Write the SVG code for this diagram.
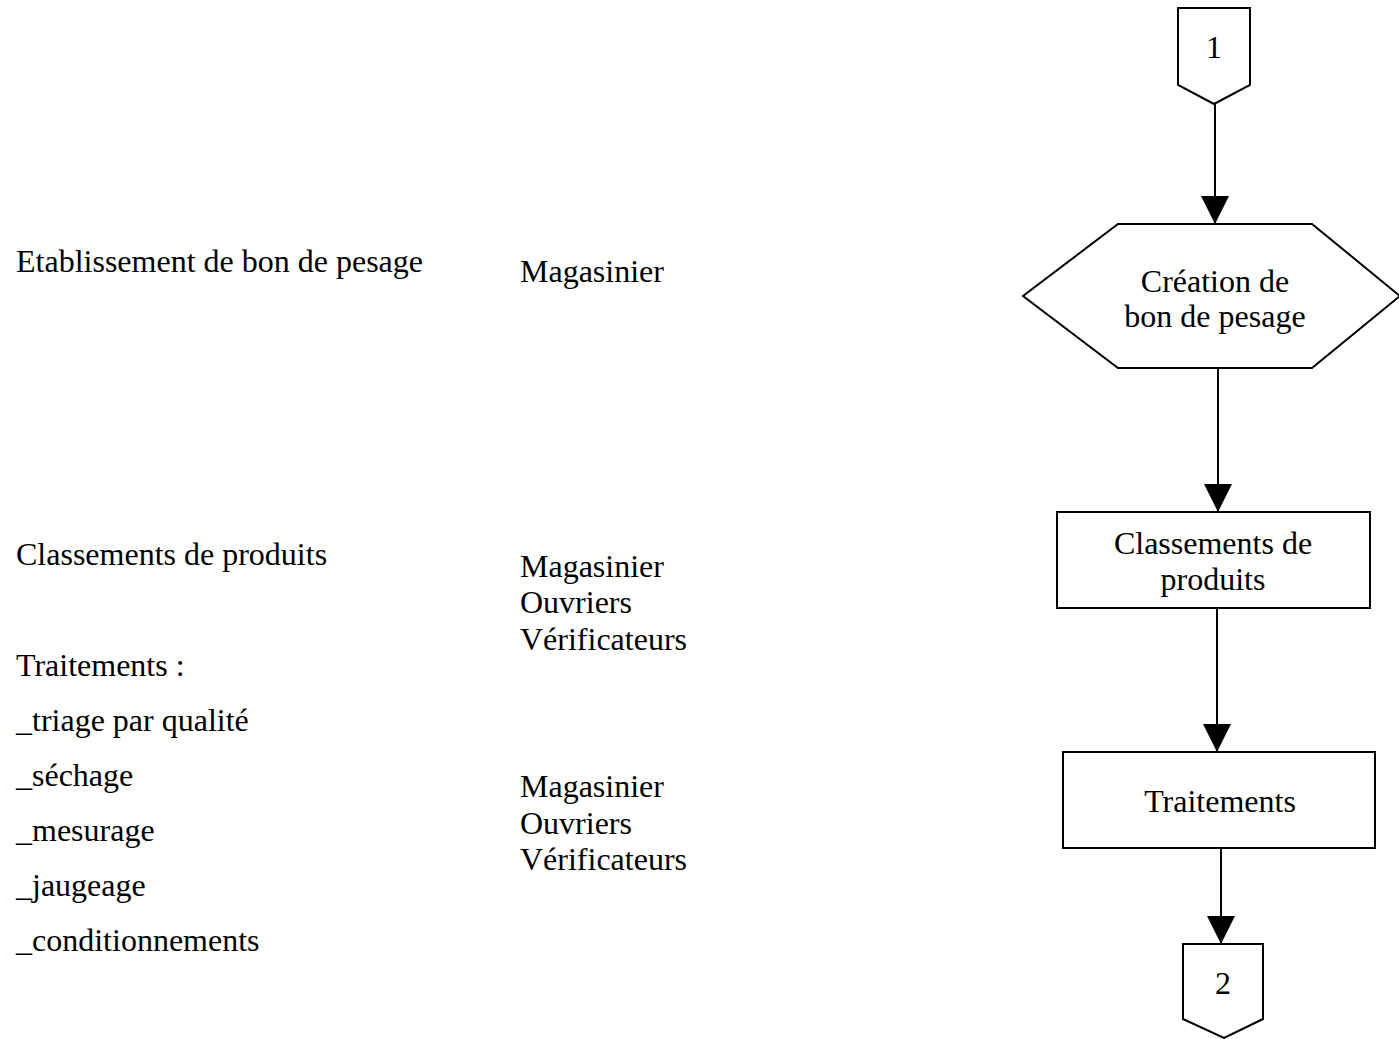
<svg xmlns="http://www.w3.org/2000/svg" width="1399" height="1039" viewBox="0 0 1399 1039">
  <style>
    text { font-family: "Liberation Serif", "Times New Roman", serif; font-size: 32px; fill: #000; }
    .c { text-anchor: middle; }
    .shape { fill: #fff; stroke: #000; stroke-width: 2; }
    .link { stroke: #000; stroke-width: 2; fill: none; }
  </style>
  <defs>
    <marker id="arrow" markerUnits="userSpaceOnUse" markerWidth="28" markerHeight="28" viewBox="0 0 28 28" refX="28" refY="14" orient="auto">
      <path d="M0,0 L28,14 L0,28 Z" fill="#000"/>
    </marker>
  </defs>

  <rect width="1399" height="1039" fill="#fff"/>

  <!-- Step descriptions -->
  <g id="steps">
    <text x="16" y="272">Etablissement de bon de pesage</text>
    <text x="16" y="565">Classements de produits</text>
    <text x="16" y="676">Traitements :</text>
    <text x="16" y="731">_triage par qualité</text>
    <text x="16" y="786">_séchage</text>
    <text x="16" y="841">_mesurage</text>
    <text x="16" y="896">_jaugeage</text>
    <text x="16" y="951">_conditionnements</text>
  </g>

  <!-- Actors -->
  <g id="actors">
    <text x="520" y="282">Magasinier</text>
    <text x="520" y="577">Magasinier</text>
    <text x="520" y="613">Ouvriers</text>
    <text x="520" y="650">Vérificateurs</text>
    <text x="520" y="797">Magasinier</text>
    <text x="520" y="834">Ouvriers</text>
    <text x="520" y="870">Vérificateurs</text>
  </g>

  <!-- Connectors -->
  <g id="connectors">
    <line class="link" x1="1215" y1="104" x2="1215" y2="224" marker-end="url(#arrow)"/>
    <line class="link" x1="1218" y1="368" x2="1218" y2="512" marker-end="url(#arrow)"/>
    <line class="link" x1="1217" y1="608" x2="1217" y2="752" marker-end="url(#arrow)"/>
    <line class="link" x1="1221" y1="848" x2="1221" y2="944" marker-end="url(#arrow)"/>
  </g>

  <!-- Off-page connector 1 -->
  <g id="offpage-1">
    <polygon class="shape" points="1178,8 1250,8 1250,85 1214,104 1178,85"/>
    <text class="c" x="1214" y="58">1</text>
  </g>

  <!-- Creation of weighing slip -->
  <g id="creation-bon">
    <polygon class="shape" points="1118,224 1312,224 1400,296 1312,368 1118,368 1023,296"/>
    <text class="c" x="1215" y="292">Création de</text>
    <text class="c" x="1215" y="327">bon de pesage</text>
  </g>

  <!-- Product sorting -->
  <g id="classements">
    <rect class="shape" x="1057" y="512" width="313" height="96"/>
    <text class="c" x="1213" y="554">Classements de</text>
    <text class="c" x="1213" y="590">produits</text>
  </g>

  <!-- Processing -->
  <g id="traitements">
    <rect class="shape" x="1063" y="752" width="312" height="96"/>
    <text class="c" x="1220" y="812">Traitements</text>
  </g>

  <!-- Off-page connector 2 -->
  <g id="offpage-2">
    <polygon class="shape" points="1183,944 1263,944 1263,1019 1224,1038 1183,1019"/>
    <text class="c" x="1223" y="994">2</text>
  </g>
</svg>
